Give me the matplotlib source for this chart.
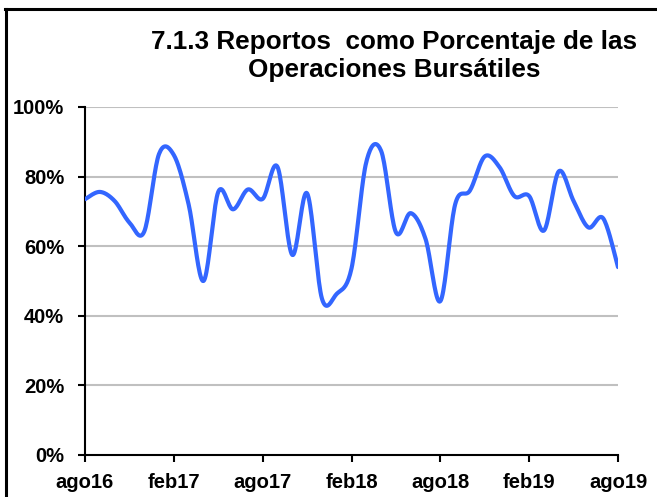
import numpy as np
import matplotlib
matplotlib.use("Agg")
import matplotlib.pyplot as plt
from matplotlib.lines import Line2D

# Monthly share of repos in total stock-exchange operations (%), ago16 .. ago19
share = [73.5, 75.6, 73.0, 66.8, 64.2, 86.5, 86.2, 72.0, 50.0, 75.6,
         70.6, 76.3, 73.6, 82.8, 57.5, 75.2, 45.0, 46.3, 53.6, 84.2,
         87.4, 64.0, 69.5, 62.1, 44.2, 72.0, 76.0, 85.8, 82.7, 74.4,
         74.4, 64.5, 81.5, 73.0, 65.4, 68.0, 54.0]
tick_labels = ["ago16", "feb17", "ago17", "feb18", "ago18", "feb19", "ago19"]
y_ticks = [0, 20, 40, 60, 80, 100]

plt.rcParams['font.family'] = ['Liberation Sans', 'DejaVu Sans']
plt.rcParams['font.weight'] = 'bold'


def smooth(xs, ys, n=20):
    """Uniform Catmull-Rom curve through the points (spreadsheet-style smoothed line)."""
    P = np.column_stack([xs, ys]).astype(float)
    P = np.vstack([P[0], P, P[-1]])
    out = []
    t = np.linspace(0, 1, n, endpoint=False)[:, None]
    for i in range(1, len(P) - 2):
        p0, p1, p2, p3 = P[i - 1], P[i], P[i + 1], P[i + 2]
        seg = 0.5 * ((2 * p1) + (-p0 + p2) * t + (2 * p0 - 5 * p1 + 4 * p2 - p3) * t ** 2
                     + (-p0 + 3 * p1 - 3 * p2 + p3) * t ** 3)
        out.append(seg)
    out.append(P[-2][None, :])
    C = np.vstack(out)
    return C[:, 0], C[:, 1]


x = np.arange(len(share))
sx, sy = smooth(x, share)

fig = plt.figure(figsize=(6.57, 4.97), dpi=100)
ax = fig.add_axes([85 / 657, 1 - 455 / 497, (618 - 85) / 657, (455 - 107) / 497])

for v in y_ticks[1:]:
    ax.axhline(v, color='#c0c0c0', lw=1.5, zorder=1)

ax.plot(sx, sy, color='#3366ff', lw=3.0, solid_capstyle='round', zorder=3)

ax.set_xlim(0, len(share) - 1)
ax.set_ylim(0, 100)
ax.set_xticks(np.arange(0, len(share), 6))
ax.set_xticklabels(tick_labels)
ax.set_yticks(y_ticks)
ax.set_yticklabels([f"{v}%" for v in y_ticks])
for s in ('top', 'right'):
    ax.spines[s].set_visible(False)
for s in ('left', 'bottom'):
    ax.spines[s].set_linewidth(1.5)
    ax.spines[s].set_color('black')
ax.tick_params(axis='both', direction='out', length=5, width=1.5, labelsize=14.5)
ax.tick_params(axis='x', pad=8)
ax.tick_params(axis='y', pad=10)
for lab in ax.get_xticklabels() + ax.get_yticklabels():
    lab.set_fontweight('bold')

fig.text(394 / 657, 1 - 42 / 497, "7.1.3 Reportos  como Porcentaje de las",
         ha='center', va='center', fontsize=18.8, fontweight='bold')
fig.text(394 / 657, 1 - 70 / 497, "Operaciones Bursátiles",
         ha='center', va='center', fontsize=18.8, fontweight='bold')

# frame edges along the left and top of the figure
fig.add_artist(Line2D([6 / 657, 6 / 657], [0, 1 - 9 / 497], transform=fig.transFigure,
                      color='black', lw=2.2))
fig.add_artist(Line2D([5 / 657, 1], [1 - 9 / 497, 1 - 9 / 497], transform=fig.transFigure,
                      color='black', lw=2.2))

fig.savefig("out.png", dpi=100)
